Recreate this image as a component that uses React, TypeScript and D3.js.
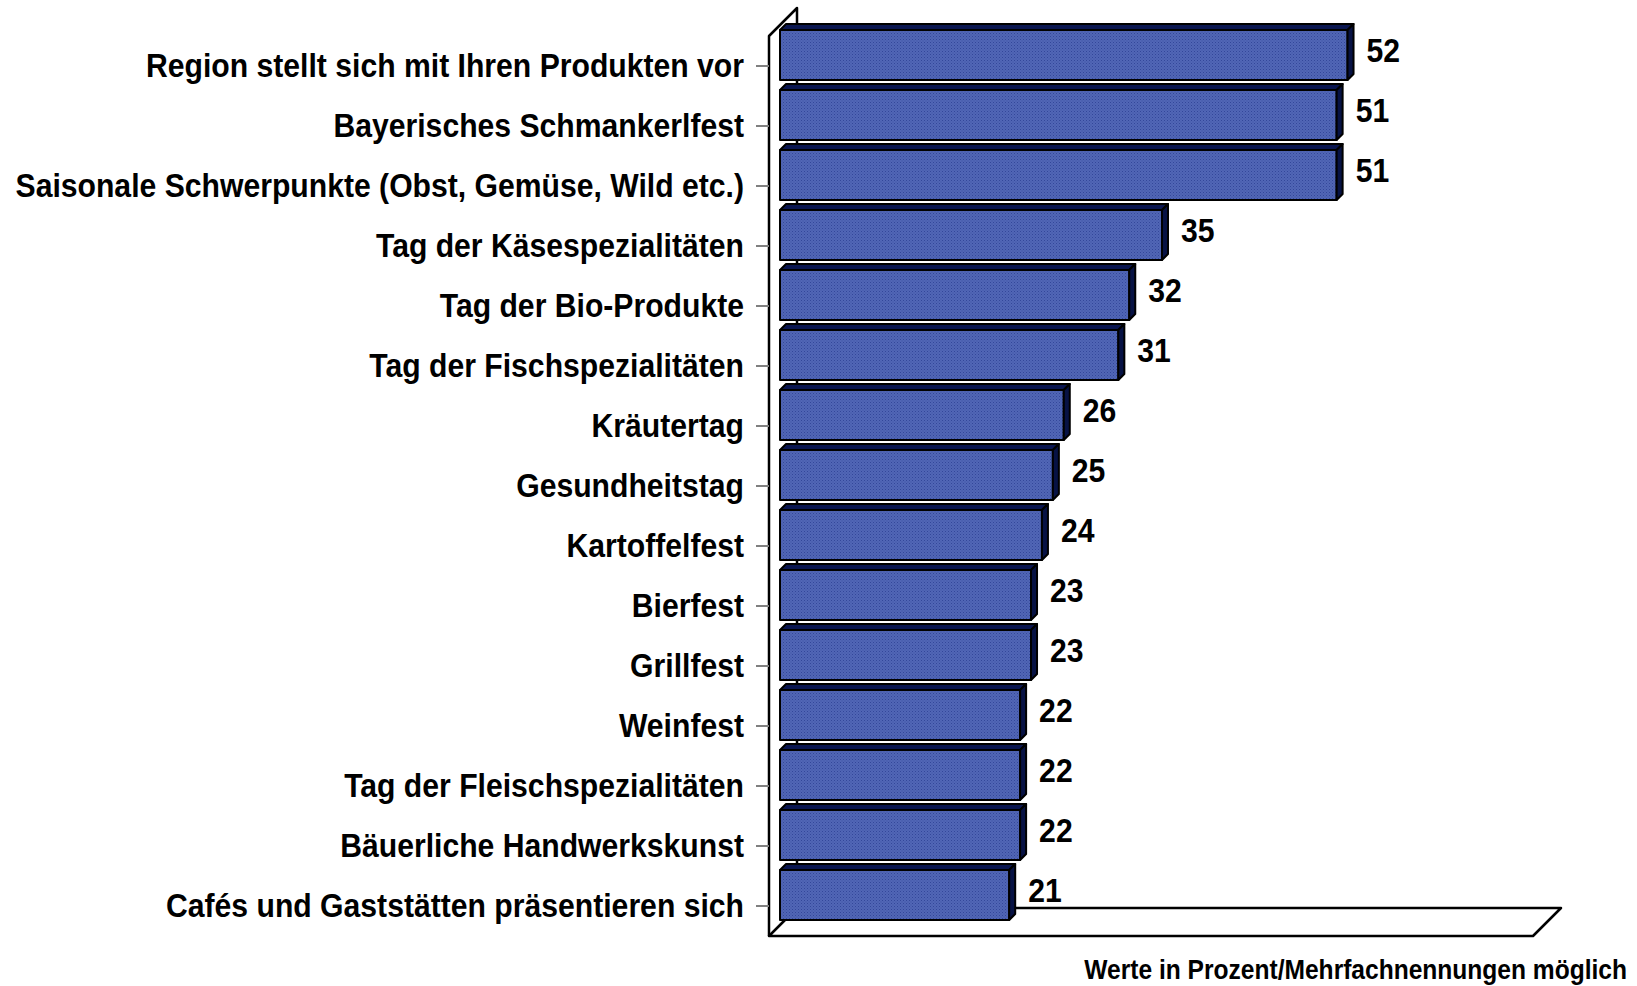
import React from "react";
import * as d3 from "d3";

const categories = [
  "Region stellt sich mit Ihren Produkten vor",
  "Bayerisches Schmankerlfest",
  "Saisonale Schwerpunkte (Obst, Gemüse, Wild etc.)",
  "Tag der Käsespezialitäten",
  "Tag der Bio-Produkte",
  "Tag der Fischspezialitäten",
  "Kräutertag",
  "Gesundheitstag",
  "Kartoffelfest",
  "Bierfest",
  "Grillfest",
  "Weinfest",
  "Tag der Fleischspezialitäten",
  "Bäuerliche Handwerkskunst",
  "Cafés und Gaststätten präsentieren sich",
];
const values = [52, 51, 51, 35, 32, 31, 26, 25, 24, 23, 23, 22, 22, 22, 21];
const axisMax = 70;
const footnote = "Werte in Prozent/Mehrfachnennungen möglich";

const W = 1637;
const H = 986;
const FONT = "'Liberation Sans', Arial, sans-serif";
const SX = 0.887; // horizontal condensing

export default function App() {
  const left = 769;
  const right = 1533;
  const top = 36;
  const bottom = 936;
  const D = 28; // wall depth
  const off = 11; // bar depth offset
  const bd = 6; // bar depth

  const x = d3.scaleLinear().domain([0, axisMax]).range([left, right]);
  const y = d3
    .scaleBand<string>()
    .domain(categories)
    .range([top, bottom])
    .paddingInner(1 / 6)
    .paddingOuter(1 / 12);

  const bars = categories.map((c, i) => {
    const x0 = x(0) + off;
    const x1 = x(values[i]) + off;
    const y0 = (y(c) as number) - off;
    const y1 = y0 + y.bandwidth();
    return { c, v: values[i], x0, x1, y0, y1 };
  });

  const lw = 2.5;

  return (
    <svg width={W} height={H} style={{ position: "absolute", left: 0, top: 0, background: "#fff" }}>
      <defs>
        <pattern id="dots" width="3" height="3" patternUnits="userSpaceOnUse">
          <rect width="3" height="3" fill="#5166b6" />
          <rect x="0" y="0" width="1" height="1" fill="#33479a" />
          <rect x="1.5" y="1.5" width="1" height="1" fill="#3c50a2" />
        </pattern>
      </defs>
      {/* back wall and floor */}
      <g fill="none" stroke="#000" strokeWidth={lw} strokeLinejoin="round">
        <path d={`M${left},${bottom} L${left},${top} L${left + D},${top - D} L${left + D},${bottom - D}`} />
        <path d={`M${left},${bottom} L${left + D},${bottom - D} L${right + D},${bottom - D} L${right},${bottom} Z`} />
      </g>
      {/* ticks */}
      <g stroke="#808080" strokeWidth={2}>
        {categories.map((c) => {
          const yc = (y(c) as number) + y.bandwidth() / 2;
          return <line key={c} x1={left - 13} x2={left} y1={yc} y2={yc} />;
        })}
      </g>
      {/* bars */}
      <g stroke="#000" strokeWidth={2} strokeLinejoin="round">
        {bars.map((b) => (
          <g key={b.c}>
            <rect x={b.x0} y={b.y0} width={b.x1 - b.x0} height={b.y1 - b.y0} fill="url(#dots)" />
            <path
              d={`M${b.x0},${b.y0} L${b.x0 + bd},${b.y0 - bd} L${b.x1 + bd},${b.y0 - bd} L${b.x1},${b.y0} Z`}
              fill="#0a1650"
            />
            <path
              d={`M${b.x1},${b.y0} L${b.x1 + bd},${b.y0 - bd} L${b.x1 + bd},${b.y1 - bd} L${b.x1},${b.y1} Z`}
              fill="#071244"
            />
          </g>
        ))}
      </g>
      {/* category labels */}
      <g fontFamily={FONT} fontWeight="bold" fontSize={34} fill="#000" textAnchor="end">
        {categories.map((c) => (
          <text
            key={c}
            transform={`translate(${left - 25},${(y(c) as number) + y.bandwidth() / 2 - 1}) scale(${SX},1)`}
            dy="0.36em"
          >
            {c}
          </text>
        ))}
      </g>
      {/* value labels */}
      <g fontFamily={FONT} fontWeight="bold" fontSize={34} fill="#000">
        {bars.map((b) => (
          <text
            key={b.c}
            transform={`translate(${b.x1 + bd + 13},${(b.y0 + b.y1) / 2 - 5}) scale(${SX},1)`}
            dy="0.36em"
          >
            {b.v}
          </text>
        ))}
      </g>
      <text
        transform={`translate(1627,979) scale(${SX},1)`}
        textAnchor="end"
        fontFamily={FONT}
        fontWeight="bold"
        fontSize={27.7}
        fill="#000"
      >
        {footnote}
      </text>
    </svg>
  );
}
